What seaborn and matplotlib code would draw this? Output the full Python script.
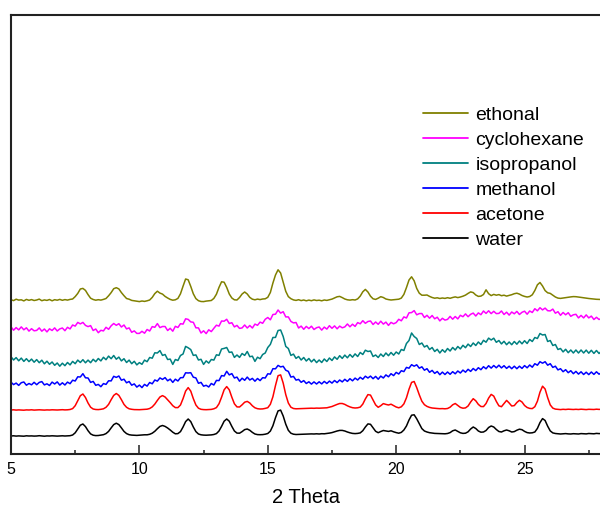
import numpy as np
import pandas as pd
import matplotlib
matplotlib.use("Agg")
import matplotlib.pyplot as plt
import seaborn as sns

# Powder XRD patterns, 2-theta from 5.0 to 28.0 deg in 0.1 deg steps.
# Intensities are in arbitrary units and already include the stacking offset.
two_theta_start = 5.0
two_theta_step = 0.1

water = [
    19.0, 19.2, 18.9, 19.1, 19.0, 18.8, 19.2, 19.0, 19.1, 18.9,
    19.0, 19.3, 19.0, 18.8, 19.1, 19.0, 19.2, 19.0, 18.9, 19.1,
    19.2, 19.0, 19.1, 19.3, 20.0, 22.2, 26.0, 29.8, 31.0, 28.4,
    24.3, 21.1, 19.8, 19.4, 19.5, 19.9, 20.3, 21.4, 23.6, 27.1,
    30.4, 31.8, 30.4, 27.1, 23.6, 21.4, 20.3, 19.9, 19.7, 19.6,
    19.8, 19.9, 20.2, 20.2, 20.7, 21.8, 23.7, 26.3, 28.6, 29.5,
    28.6, 27.0, 25.0, 22.8, 21.2, 21.4, 23.4, 28.0, 33.4, 36.0,
    33.4, 28.0, 23.4, 21.0, 20.2, 19.9, 19.8, 19.9, 20.1, 20.5,
    21.4, 24.0, 28.6, 33.8, 36.0, 33.8, 28.6, 24.0, 21.9, 21.8,
    23.4, 25.4, 26.0, 24.7, 22.6, 21.0, 20.4, 20.3, 20.4, 20.8,
    21.5, 23.9, 29.3, 37.3, 44.1, 44.9, 39.0, 30.8, 24.7, 21.8,
    20.8, 20.5, 20.6, 20.8, 20.7, 21.0, 20.9, 21.1, 21.0, 21.2,
    21.0, 21.3, 21.2, 21.5, 21.9, 22.4, 23.2, 24.0, 24.6, 24.6,
    24.0, 23.0, 22.2, 21.6, 21.4, 21.6, 22.1, 24.3, 28.0, 31.1,
    30.7, 27.2, 23.7, 22.3, 23.5, 24.5, 24.0, 23.6, 24.2, 23.2,
    22.4, 21.8, 22.6, 25.0, 29.0, 35.0, 39.8, 40.2, 36.2, 31.2,
    26.4, 24.0, 23.0, 22.3, 21.9, 21.6, 21.5, 21.3, 21.4, 21.2,
    21.5, 22.4, 24.2, 25.0, 23.6, 22.2, 21.6, 21.8, 23.2, 26.0,
    28.0, 26.5, 24.0, 22.8, 23.0, 24.5, 27.5, 29.0, 28.0, 25.5,
    23.5, 23.0, 24.2, 25.0, 24.2, 23.0, 23.4, 24.8, 25.8, 25.3,
    23.6, 22.4, 22.0, 22.2, 23.0, 26.6, 32.4, 36.4, 34.5, 28.8,
    24.1, 22.1, 21.5, 21.3, 21.0, 21.2, 21.4, 21.1, 21.0, 21.3,
    21.2, 21.0, 21.4, 21.2, 21.1, 21.5, 21.3, 21.2, 21.6, 21.4,
    21.5,
]

acetone = [
    45.0, 45.2, 44.9, 45.1, 45.0, 44.8, 45.1, 45.0, 45.2, 44.9,
    45.0, 45.2, 45.0, 44.9, 45.1, 45.0, 45.2, 45.1, 45.0, 45.2,
    45.3, 45.1, 45.2, 45.5, 46.4, 49.3, 54.2, 59.3, 61.0, 57.5,
    52.0, 47.8, 46.0, 45.5, 45.4, 45.7, 46.2, 47.7, 50.6, 55.3,
    59.6, 61.5, 59.6, 55.3, 50.6, 47.7, 46.2, 45.7, 45.4, 45.3,
    45.3, 45.5, 45.6, 45.8, 46.5, 48.1, 50.9, 54.6, 58.0, 59.4,
    58.0, 55.2, 52.4, 49.3, 47.4, 47.4, 50.0, 56.4, 63.9, 67.4,
    63.9, 56.4, 50.0, 46.8, 45.7, 45.4, 45.3, 45.4, 45.6, 46.2,
    47.4, 51.2, 57.8, 65.2, 68.4, 65.2, 57.8, 51.2, 48.1, 48.0,
    50.2, 52.8, 53.6, 52.0, 49.2, 47.2, 46.3, 46.0, 46.1, 46.6,
    47.3, 50.7, 58.3, 69.5, 79.3, 80.1, 71.9, 60.4, 52.0, 47.8,
    46.5, 46.2, 46.3, 46.5, 46.4, 46.7, 46.6, 46.8, 46.7, 46.9,
    46.8, 46.9, 46.9, 47.2, 47.8, 48.5, 49.6, 50.6, 51.5, 51.5,
    50.6, 49.2, 48.1, 47.3, 47.0, 47.2, 47.9, 50.9, 56.1, 60.4,
    59.9, 55.0, 50.1, 47.7, 49.3, 51.4, 50.6, 50.0, 50.8, 49.4,
    48.0, 47.2, 48.2, 51.1, 57.2, 65.8, 72.6, 73.5, 67.4, 60.2,
    53.8, 50.3, 48.6, 47.6, 47.0, 46.7, 46.5, 46.3, 46.4, 46.2,
    46.5, 47.8, 50.2, 51.5, 49.6, 47.6, 46.8, 47.1, 49.0, 53.0,
    56.3, 54.2, 50.6, 48.5, 48.4, 51.5, 56.9, 60.6, 58.9, 53.6,
    49.2, 48.3, 51.5, 54.6, 52.0, 49.0, 49.4, 52.5, 54.7, 53.0,
    49.5, 47.5, 46.6, 46.4, 48.3, 53.8, 62.8, 68.8, 66.0, 57.3,
    50.1, 46.9, 45.9, 45.6, 45.4, 45.7, 45.5, 45.8, 45.6, 45.5,
    45.7, 45.5, 45.8, 45.6, 45.4, 45.7, 45.6, 45.5, 45.8, 45.6,
    45.7,
]

methanol = [
    72.8, 70.4, 71.9, 69.6, 72.3, 73.0, 69.8, 71.5, 70.2, 72.7,
    70.3, 72.6, 73.4, 70.1, 71.2, 69.5, 72.9, 71.0, 73.1, 69.9,
    72.2, 70.0, 72.9, 71.3, 74.8, 74.0, 78.2, 78.0, 81.3, 77.2,
    77.0, 72.6, 73.6, 69.7, 70.6, 68.3, 71.4, 70.6, 74.2, 74.1,
    78.7, 77.6, 79.0, 74.8, 75.8, 72.2, 73.5, 69.8, 71.1, 67.9,
    69.9, 67.4, 70.6, 68.9, 72.5, 71.2, 75.0, 73.9, 77.1, 75.6,
    77.4, 74.2, 75.9, 72.6, 75.8, 74.0, 77.3, 77.4, 82.2, 82.0,
    82.3, 77.8, 77.1, 71.7, 72.6, 68.8, 69.7, 68.0, 71.5, 70.0,
    74.6, 74.4, 79.4, 79.0, 83.7, 80.1, 81.4, 77.0, 77.9, 73.8,
    76.8, 74.7, 77.9, 75.0, 76.6, 73.8, 76.5, 74.4, 77.3, 77.0,
    81.2, 80.9, 86.3, 86.2, 89.6, 88.1, 88.7, 84.8, 83.6, 77.9,
    78.6, 74.9, 75.6, 72.7, 74.4, 71.5, 73.2, 70.9, 73.1, 71.0,
    73.2, 71.1, 73.6, 71.5, 73.9, 71.9, 74.5, 72.4, 75.0, 73.1,
    75.7, 73.6, 76.3, 74.2, 76.9, 75.0, 77.7, 75.8, 78.8, 77.0,
    78.9, 76.3, 78.6, 75.8, 78.9, 77.0, 80.1, 78.2, 81.3, 79.4,
    82.6, 81.0, 84.3, 83.4, 87.6, 86.8, 90.3, 88.8, 90.2, 86.8,
    88.2, 84.8, 86.3, 82.7, 84.6, 81.6, 83.5, 80.3, 82.9, 80.5,
    83.0, 80.7, 83.3, 81.2, 84.0, 82.0, 84.9, 82.8, 85.7, 83.6,
    86.5, 84.4, 87.3, 85.3, 88.3, 86.2, 89.3, 86.9, 89.5, 87.2,
    89.8, 87.1, 89.3, 86.6, 88.8, 86.3, 88.8, 86.3, 88.8, 86.6,
    89.4, 87.2, 90.0, 87.8, 91.3, 89.8, 93.3, 91.8, 93.3, 89.8,
    91.3, 87.6, 88.8, 85.1, 86.3, 83.3, 85.3, 82.3, 84.3, 81.3,
    83.6, 80.9, 83.2, 80.5, 82.8, 80.4, 83.0, 80.6, 83.2, 80.8,
    82.4,
]

isopropanol = [
    98.3, 95.0, 97.4, 94.2, 96.9, 93.6, 96.3, 93.4, 95.9, 92.8,
    95.4, 92.3, 94.8, 91.2, 93.8, 90.7, 93.0, 89.7, 92.0, 88.8,
    91.8, 89.3, 92.5, 90.1, 93.6, 91.3, 94.9, 92.5, 95.3, 92.2,
    94.9, 92.3, 95.7, 93.3, 96.5, 94.1, 97.7, 95.3, 98.9, 96.3,
    99.5, 95.8, 97.9, 94.1, 96.3, 92.5, 94.9, 91.3, 93.7, 90.1,
    92.4, 90.7, 94.9, 93.3, 97.5, 96.8, 102.2, 102.0, 104.4, 99.6,
    100.5, 95.5, 95.9, 90.6, 95.5, 94.5, 99.5, 101.0, 108.6, 107.2,
    105.4, 99.6, 100.1, 95.0, 95.7, 90.6, 94.1, 91.9, 95.5, 94.9,
    100.2, 99.6, 106.0, 106.6, 107.5, 102.6, 103.0, 97.6, 100.0, 97.6,
    101.5, 99.6, 103.5, 98.3, 98.8, 93.6, 97.8, 96.3, 100.5, 102.0,
    107.5, 110.6, 117.5, 117.6, 124.5, 125.0, 118.5, 108.6, 106.5, 99.6,
    100.9, 96.6, 98.5, 95.0, 97.5, 94.0, 96.5, 93.1, 95.7, 92.4,
    95.0, 92.5, 96.0, 93.5, 97.0, 94.5, 98.1, 95.7, 99.3, 96.6,
    99.9, 97.2, 100.5, 97.8, 101.1, 98.5, 102.5, 100.5, 104.8, 103.5,
    104.0, 98.5, 100.0, 97.5, 101.0, 98.5, 102.0, 99.3, 102.5, 99.8,
    103.0, 101.0, 105.5, 104.5, 111.5, 114.5, 122.0, 118.5, 116.5, 110.5,
    112.0, 108.0, 109.5, 105.5, 107.5, 103.5, 105.7, 102.0, 105.3, 102.8,
    106.5, 104.0, 107.5, 105.0, 108.5, 106.1, 109.7, 107.3, 110.9, 108.5,
    112.0, 109.5, 113.0, 110.5, 114.7, 112.8, 116.9, 115.0, 116.8, 112.7,
    114.5, 111.1, 113.7, 110.3, 113.0, 110.3, 113.5, 110.8, 114.0, 111.2,
    114.3, 111.5, 115.5, 113.5, 117.5, 116.5, 121.5, 120.0, 120.5, 113.5,
    114.5, 109.5, 110.5, 105.5, 106.5, 103.1, 105.7, 102.3, 105.0, 102.0,
    105.0, 102.0, 105.0, 102.0, 104.9, 101.8, 104.7, 101.6, 104.5, 101.5,
    104.0,
]

cyclohexane = [
    128.2, 124.8, 127.4, 125.1, 128.1, 125.2, 127.2, 123.9, 126.3, 124.2,
    124.6, 127.1, 123.8, 126.0, 123.1, 126.2, 124.5, 127.1, 124.0, 126.1,
    127.0, 124.3, 127.7, 126.1, 130.0, 128.9, 132.6, 131.1, 132.6, 129.6,
    128.4, 129.4, 124.5, 126.0, 122.3, 124.7, 124.1, 127.7, 125.7, 129.2,
    131.5, 129.7, 131.3, 128.0, 130.0, 126.1, 127.1, 122.7, 124.1, 121.6,
    121.6, 123.7, 121.8, 125.5, 124.0, 128.4, 127.7, 131.4, 127.4, 128.5,
    128.5, 124.5, 126.7, 123.8, 128.7, 127.5, 131.3, 130.9, 136.2, 135.6,
    133.1, 132.7, 127.2, 127.1, 122.0, 124.2, 121.4, 125.2, 123.4, 126.7,
    129.8, 128.9, 134.0, 133.8, 135.7, 131.5, 132.3, 128.1, 129.6, 126.6,
    127.1, 130.0, 127.0, 129.5, 127.0, 130.9, 129.7, 132.9, 131.7, 135.7,
    137.5, 135.2, 140.5, 140.8, 145.0, 141.9, 143.3, 138.1, 138.1, 133.6,
    132.1, 132.5, 127.0, 128.9, 125.7, 128.6, 126.4, 128.8, 125.5, 127.3,
    128.0, 124.9, 127.9, 125.9, 129.3, 126.7, 129.1, 126.2, 128.9, 127.2,
    128.1, 131.0, 128.2, 130.8, 128.6, 132.4, 131.2, 134.3, 131.7, 133.5,
    134.0, 130.5, 133.0, 130.7, 133.8, 130.9, 132.9, 129.6, 132.6, 131.2,
    132.4, 135.7, 134.2, 138.1, 137.0, 142.2, 142.4, 144.4, 140.2, 141.4,
    141.5, 137.5, 139.7, 136.8, 139.5, 136.2, 137.8, 134.1, 136.7, 134.9,
    135.6, 138.6, 135.8, 138.5, 136.1, 139.7, 138.3, 141.1, 138.3, 140.7,
    141.9, 139.0, 142.1, 140.3, 144.0, 141.6, 144.2, 141.4, 143.7, 141.4,
    141.6, 144.0, 140.5, 142.8, 139.9, 143.0, 141.2, 143.6, 140.5, 142.7,
    143.8, 140.8, 144.0, 142.5, 146.3, 144.2, 147.3, 145.1, 146.9, 144.3,
    144.1, 145.9, 141.8, 143.3, 139.7, 142.5, 140.2, 142.3, 138.7, 140.2,
    140.7, 137.1, 139.6, 137.1, 140.1, 137.1, 138.9, 135.5, 137.7, 135.5,
    136.7,
]

ethonal = [
    155.3, 154.4, 155.8, 154.9, 155.2, 154.1, 155.6, 154.7, 155.4, 154.5,
    155.0, 155.9, 154.3, 155.1, 154.6, 155.5, 154.2, 155.3, 154.8, 155.6,
    154.7, 155.4, 154.9, 155.6, 156.0, 158.4, 161.6, 166.0, 166.6, 164.6,
    160.4, 156.8, 155.5, 154.8, 155.3, 154.9, 155.6, 156.5, 159.2, 162.4,
    166.3, 167.3, 166.1, 162.4, 159.3, 156.5, 155.8, 154.6, 154.2, 153.9,
    153.4, 154.0, 153.6, 154.2, 155.0, 157.6, 161.4, 163.8, 161.9, 160.9,
    158.6, 157.0, 155.6, 154.8, 155.2, 156.6, 161.2, 168.8, 176.0, 175.2,
    168.6, 161.2, 156.4, 154.3, 153.5, 153.4, 153.9, 154.2, 154.5, 156.6,
    160.8, 167.6, 173.2, 172.8, 167.6, 161.0, 157.0, 155.2, 155.0, 157.5,
    161.0, 163.0, 161.0, 157.6, 155.8, 155.2, 155.9, 155.4, 156.0, 156.2,
    157.7, 162.5, 172.0, 180.0, 185.2, 182.0, 172.7, 163.7, 158.4, 156.3,
    155.1, 154.6, 155.3, 154.4, 155.0, 154.2, 154.9, 154.3, 155.1, 154.5,
    154.8, 154.2, 155.0, 154.6, 155.3, 155.9, 157.0, 158.2, 158.6, 157.4,
    156.0, 155.2, 154.9, 155.3, 155.0, 156.1, 158.9, 163.2, 165.6, 163.0,
    158.8, 156.2, 155.6, 156.8, 158.3, 157.5, 156.0, 155.4, 155.0, 155.3,
    155.6, 155.8, 156.9, 160.6, 167.4, 175.0, 178.2, 174.2, 166.6, 161.8,
    159.8, 159.8, 160.0, 158.6, 157.5, 156.8, 157.2, 156.5, 157.0, 156.6,
    157.3, 156.7, 157.5, 158.1, 157.4, 158.0, 158.8, 159.9, 161.6, 163.1,
    162.4, 160.0, 158.6, 158.9, 160.5, 165.2, 161.3, 159.4, 160.6, 159.8,
    160.4, 159.3, 159.8, 158.9, 159.6, 160.3, 161.3, 161.8, 160.9, 159.5,
    158.6, 158.0, 158.5, 160.2, 164.5, 170.2, 172.5, 169.0, 164.4, 162.2,
    161.6, 159.8, 158.0, 156.9, 156.6, 157.0, 157.5, 157.8, 158.1, 158.4,
    158.3, 158.0, 157.6, 157.2, 156.8, 156.5, 156.2, 155.9, 155.7, 155.6,
    155.5,
]

solvents = ["ethonal", "cyclohexane", "isopropanol", "methanol", "acetone", "water"]
patterns = {
    "ethonal": ethonal,
    "cyclohexane": cyclohexane,
    "isopropanol": isopropanol,
    "methanol": methanol,
    "acetone": acetone,
    "water": water,
}
line_colors = {
    "ethonal": "#808000",
    "cyclohexane": "#ff00ff",
    "isopropanol": "#008080",
    "methanol": "#0000ff",
    "acetone": "#ff0000",
    "water": "#000000",
}
major_ticks = [5, 10, 15, 20, 25]
minor_ticks = [7.5, 12.5, 17.5, 22.5, 27.5]

frames = []
for name in solvents:
    y = np.asarray(patterns[name], dtype=float)
    x = two_theta_start + two_theta_step * np.arange(len(y))
    frames.append(pd.DataFrame({"two_theta": x, "intensity": y, "solvent": name}))
df = pd.concat(frames, ignore_index=True)

sns.set_style("white")
plt.rcParams["font.family"] = ["Liberation Sans", "DejaVu Sans"]
plt.rcParams["text.color"] = "black"
plt.rcParams["axes.labelcolor"] = "black"
plt.rcParams["xtick.color"] = "black"

fig = plt.figure(figsize=(6.0, 5.09), dpi=100)
ax = fig.add_axes([11 / 600, 55 / 509, 590.6 / 600, 439 / 509])

sns.lineplot(
    data=df, x="two_theta", y="intensity", hue="solvent",
    hue_order=solvents, palette=line_colors, estimator=None,
    sort=False, linewidth=1.1, ax=ax,
)

ax.set_xlim(5, 28)
ax.set_ylim(1, 440)
ax.set_yticks([])
ax.set_xticks(major_ticks)
ax.set_xticks(minor_ticks, minor=True)
ax.set_xticklabels([str(t) for t in major_ticks])
ax.tick_params(axis="x", which="major", direction="in", length=6.5, width=1.1,
               color="#222222", labelcolor="black", labelsize=11.5, pad=5.5,
               bottom=True)
ax.tick_params(axis="x", which="minor", direction="in", length=3.2, width=1.1,
               color="#222222", bottom=True)
ax.set_ylabel("")
ax.set_xlabel("2 Theta", fontsize=14.5, labelpad=8.5, color="black")

for side in ["left", "top", "bottom"]:
    ax.spines[side].set_visible(True)
    ax.spines[side].set_color("#222222")
    ax.spines[side].set_linewidth(1.5)
ax.spines["right"].set_visible(False)

handles, labels = ax.get_legend_handles_labels()
order = [labels.index(s) for s in solvents]
leg = ax.legend(
    [handles[i] for i in order], [labels[i] for i in order],
    loc="upper left", bbox_to_anchor=(423 / 600, 1 - 106 / 509),
    bbox_transform=fig.transFigure, frameon=False, fontsize=14,
    handlelength=2.3, handletextpad=0.4, borderpad=0, borderaxespad=0,
    labelspacing=0.38, labelcolor="black",
)
for line in leg.get_lines():
    line.set_linewidth(1.3)

fig.savefig("out.png", dpi=100)
